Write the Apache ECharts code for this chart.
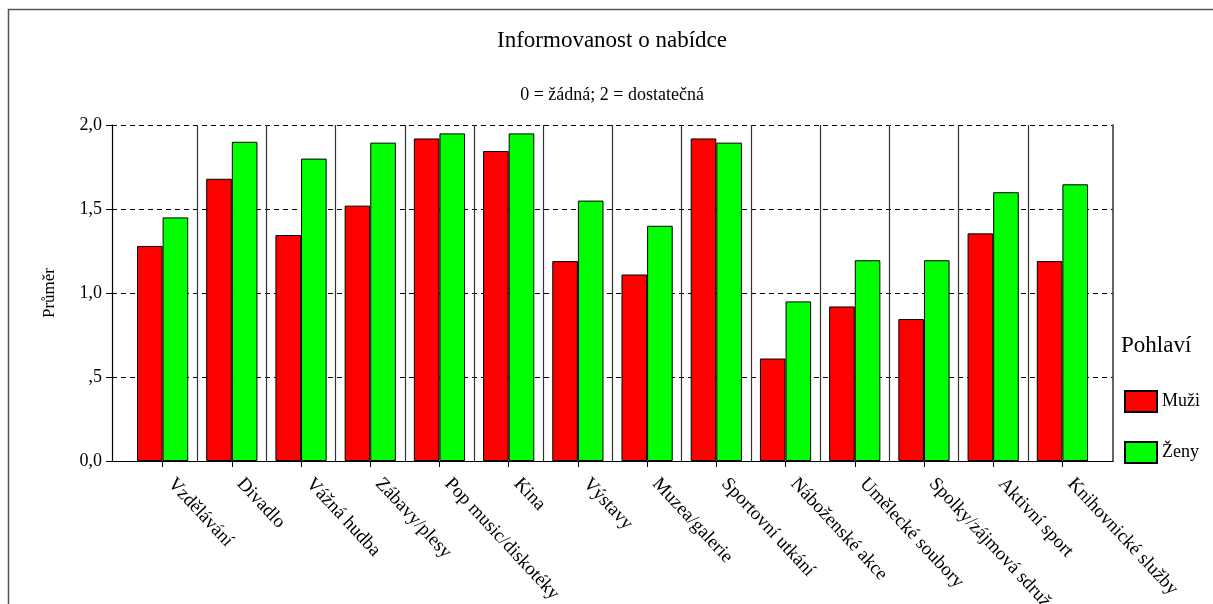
<!DOCTYPE html>
<html>
<head>
<meta charset="utf-8">
<script src="https://cdn.jsdelivr.net/npm/echarts@6/dist/echarts.min.js"></script>
<style>
html,body{margin:0;padding:0;background:#fff;}
#chart{width:1213px;height:604px;}
</style>
</head>
<body>
<div id="chart"></div>
<script>
const categories = ['Vzdělávání','Divadlo','Vážná hudba','Zábavy/plesy','Pop music/diskotéky','Kina','Výstavy','Muzea/galerie','Sportovní utkání','Náboženské akce','Umělecké soubory','Spolky/zájmová sdruž','Aktivní sport','Knihovnické služby'];
const seriesNames = ['Muži','Ženy'];
const muzi = [1.28,1.68,1.345,1.52,1.92,1.845,1.19,1.11,1.92,0.61,0.92,0.845,1.355,1.19];
const zeny = [1.45,1.90,1.80,1.895,1.95,1.95,1.55,1.40,1.895,0.95,1.195,1.195,1.60,1.647];
const yTicks = [0, 0.5, 1.0, 1.5, 2.0];

const FONT = '"Liberation Serif", "Times New Roman", serif';
const chart = echarts.init(document.getElementById('chart'), null, {renderer:'canvas'});

function fmt(v){
  let s = v.toFixed(1).replace('.', ',');
  if (v !== 0 && s.startsWith('0,')) s = s.slice(1);
  return s;
}

const option = {
  backgroundColor: '#fff',
  animation: false,
  graphic: [{
    type: 'rect', silent: true,
    shape: {x: 8.5, y: 9.5, width: 1400, height: 800},
    style: {fill: 'none', stroke: '#555', lineWidth: 1.5}
  }],
  title: [
    {text: 'Informovanost o nabídce', left: 612, top: 29, padding: 0, textAlign: 'center',
     textStyle: {fontFamily: FONT, fontSize: 23, fontWeight: 'normal', color: '#000'}},
    {text: '0 = žádná; 2 = dostatečná', left: 612, top: 86, padding: 0, textAlign: 'center',
     textStyle: {fontFamily: FONT, fontSize: 18, fontWeight: 'normal', color: '#000'}},
    {text: 'Pohlaví', left: 1121, top: 334, padding: 0,
     textStyle: {fontFamily: FONT, fontSize: 23, fontWeight: 'normal', color: '#000'}}
  ],
  legend: {
    data: seriesNames, orient: 'vertical', left: 1124, top: 390, padding: 0,
    itemWidth: 32, itemHeight: 21, itemGap: 28, icon: 'rect',
    textStyle: {fontFamily: FONT, fontSize: 18, color: '#000'}
  },
  grid: [
    {left: 112, right: 100, top: 125, bottom: 143, containLabel: false, outerBoundsMode: 'none'},
    {left: 128, right: 116, top: 125, bottom: 143, containLabel: false, outerBoundsMode: 'none'}
  ],
  xAxis: [
    {gridIndex: 0, type: 'value', min: 0, max: 1, show: true,
     axisLine: {show: true, onZero: false, lineStyle: {color: '#000', width: 1.2}},
     axisTick: {show: false}, axisLabel: {show: false}, splitLine: {show: false}},
    {gridIndex: 1, type: 'category', data: categories, boundaryGap: true,
     axisLine: {show: true, onZero: false, lineStyle: {color: '#000', width: 1.2}},
     axisTick: {show: true, alignWithLabel: true, length: 6, lineStyle: {color: '#000'}},
     axisLabel: {show: true, interval: 0, rotate: -47, margin: 11, padding: [0, 0, 0, 12],
                 fontFamily: FONT, fontSize: 19, color: '#000'},
     splitLine: {show: true, showMinLine: false, showMaxLine: false,
                 lineStyle: {color: '#333', width: 1.2, type: 'solid'}}}
  ],
  yAxis: [
    {gridIndex: 0, type: 'value', min: 0, max: 2, interval: 0.5, position: 'left',
     name: 'Průměr', nameLocation: 'middle', nameGap: 54, nameRotate: 90,
     nameTextStyle: {fontFamily: FONT, fontSize: 17, color: '#000'},
     axisLine: {show: true, lineStyle: {color: '#000', width: 1.2}},
     axisTick: {show: true, length: 6, lineStyle: {color: '#000'}},
     axisLabel: {margin: 10, fontFamily: FONT, fontSize: 18, color: '#000', formatter: fmt},
     splitLine: {show: true, showMinLine: false,
                 lineStyle: {color: '#000', width: 1.2, type: [5, 4]}}},
    {gridIndex: 0, type: 'value', min: 0, max: 2, position: 'right',
     axisLine: {show: true, lineStyle: {color: '#333', width: 1.5}},
     axisTick: {show: false}, axisLabel: {show: false}, splitLine: {show: false}},
    {gridIndex: 1, type: 'value', min: 0, max: 2, show: false, splitLine: {show: false}}
  ],
  series: [
    {name: seriesNames[0], type: 'bar', xAxisIndex: 1, yAxisIndex: 2, data: muzi,
     barGap: '0%', barCategoryGap: '26%',
     itemStyle: {color: '#ff0000', borderColor: '#000', borderWidth: 1}},
    {name: seriesNames[1], type: 'bar', xAxisIndex: 1, yAxisIndex: 2, data: zeny,
     barGap: '0%', barCategoryGap: '26%',
     itemStyle: {color: '#00ff00', borderColor: '#000', borderWidth: 1}}
  ]
};
chart.setOption(option);
</script>
</body>
</html>
